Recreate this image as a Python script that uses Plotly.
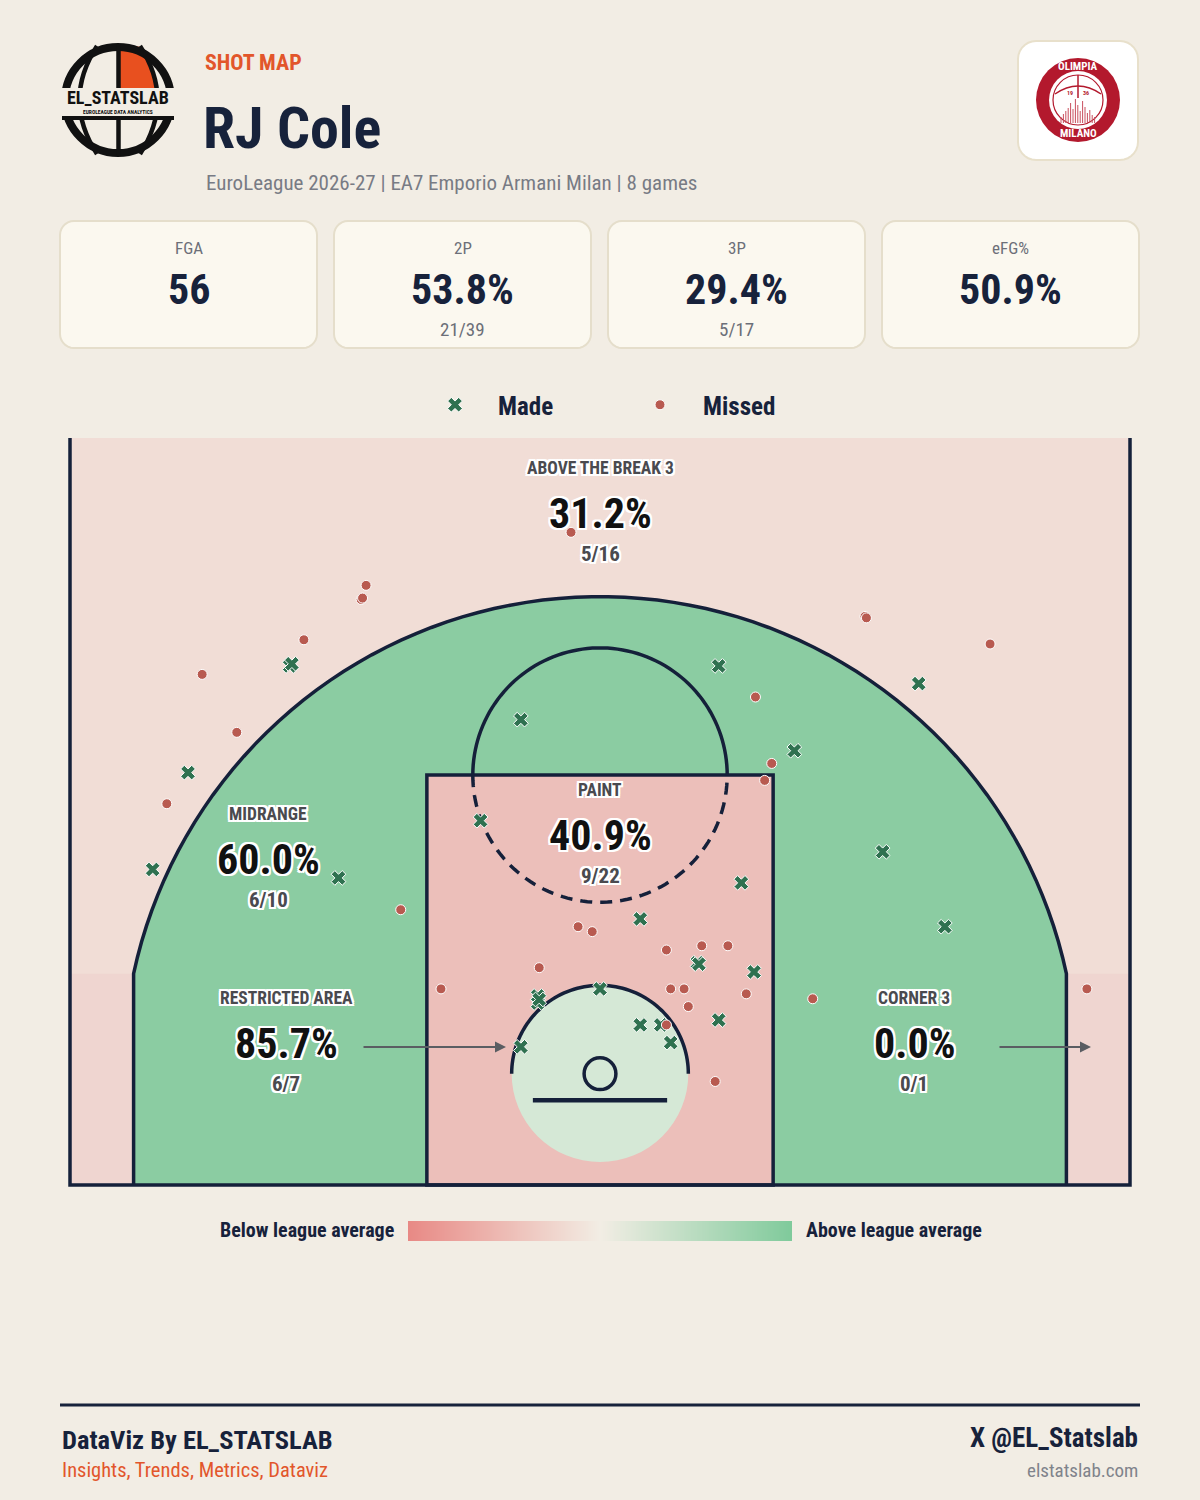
import numpy as np
import plotly.graph_objects as go

# ---------------- DATA ----------------
player = "RJ Cole"
subtitle = "EuroLeague 2026-27 | EA7 Emporio Armani Milan | 8 games"

card_labels = ["FGA", "2P", "3P", "eFG%"]
card_values = ["56", "53.8%", "29.4%", "50.9%"]
card_subs = ["", "21/39", "5/17", ""]

zone_names = ["ABOVE THE BREAK 3", "PAINT", "MIDRANGE", "RESTRICTED AREA", "CORNER 3"]
zone_made = [5, 9, 6, 6, 0]
zone_att = [16, 22, 10, 7, 1]

# shot locations in metres, origin = centre of the basket
made_x = [-4.39, -5.83, -1.12, 1.68, 4.51, 2.75, -6.33, -3.70, -1.69, -0.88, -0.88, 0.00,
          -1.12, 2.00, 0.57, 1.38, 2.18, 1.68, 0.57, 0.86, 1.00, 4.00, 4.88, -4.36, -0.86, 1.40]
made_y = [5.77, 4.26, 5.01, 5.77, 5.52, 4.57, 2.89, 2.77, 3.58, 1.10, 1.00, 1.20,
          0.38, 2.70, 2.19, 1.57, 1.44, 0.76, 0.69, 0.69, 0.44, 3.14, 2.08, 5.80, 1.05, 1.55]
missed_x = [-0.41, -3.31, -3.38, -4.19, -5.63, -5.14, -6.13, 3.75, 5.52, 2.20, 2.43, 2.33,
            -2.82, -0.31, -0.11, -0.86, -2.25, 0.94, 1.44, 1.81, 1.00, 1.19, 2.07, 1.25,
            0.94, 1.63, 3.01, 6.89, -3.36, 3.77]
missed_y = [7.66, 6.91, 6.71, 6.14, 5.65, 4.83, 3.82, 6.47, 6.08, 5.33, 4.39, 4.15,
            2.32, 2.08, 2.01, 1.50, 1.20, 1.75, 1.81, 1.81, 1.20, 1.20, 1.13, 0.95,
            0.69, -0.11, 1.06, 1.20, 6.73, 6.45]

# ---------------- STYLE ----------------
W, H = 1200, 1500
BG = "#f2ede4"
NAVY = "#17223b"
ORANGE = "#e2562b"
GRAY = "#787b84"
FONT = "Roboto Condensed, Roboto, Liberation Sans, sans-serif"
LINE = "#15203a"
GREEN_MK = "#2f7150"
RED_MK = "#b85a50"


def X(px):
    return px / W


def Y(py):
    return 1 - py / H


def rounded_rect(x0, y0, x1, y1, r, n=8):
    pts = []
    corners = [(x1 - r, y0 + r, -90, 0), (x1 - r, y1 - r, 0, 90),
               (x0 + r, y1 - r, 90, 180), (x0 + r, y0 + r, 180, 270)]
    for cx, cy, a0, a1 in corners:
        for a in np.linspace(np.radians(a0), np.radians(a1), n):
            pts.append((cx + r * np.cos(a), cy + r * np.sin(a)))
    return "M " + " L ".join(f"{X(px):.5f},{Y(py):.5f}" for px, py in pts) + " Z"


def arc(cx, cy, r, a0, a1, n=80):
    t = np.radians(np.linspace(a0, a1, n))
    return [(cx + r * np.cos(a), cy + r * np.sin(a)) for a in t]


def path(pts, close=False):
    s = "M " + " L ".join(f"{x:.4f},{y:.4f}" for x, y in pts)
    return s + (" Z" if close else "")


shapes = []
annotations = []


def txt(x, y, s, size, color, bold=False, anchor="center", shadow=None, family=FONT):
    f = dict(family=family, size=size, color=color, weight=700 if bold else 400)
    if shadow:
        f["shadow"] = shadow
    annotations.append(dict(x=X(x), y=Y(y), xref="paper", yref="paper", text=s, showarrow=False,
                            xanchor=anchor, yanchor="middle", font=f))


# ---------------- COURT GEOMETRY (metres) ----------------
BASE = -1.575
TOP = 8.995
R3 = 6.75
XC = 6.6
YC = float(np.sqrt(R3 ** 2 - XC ** 2))
ang = np.degrees(np.arctan2(YC, XC))
FT_Y = 5.8 + BASE
three_pts = [(-XC, BASE), (-XC, YC)] + arc(0, 0, R3, 180 - ang, ang) + [(XC, BASE)]

cs = dict(xref="x", yref="y", layer="below")
# zone fills
shapes.append(dict(type="rect", x0=-7.5, x1=7.5, y0=BASE, y1=TOP, fillcolor="#f1ddd6", line_width=0, **cs))
shapes.append(dict(type="rect", x0=-7.5, x1=-XC, y0=BASE, y1=YC, fillcolor="#efd5d0", line_width=0, **cs))
shapes.append(dict(type="rect", x0=XC, x1=7.5, y0=BASE, y1=YC, fillcolor="#efd5d0", line_width=0, **cs))
shapes.append(dict(type="path", path=path(three_pts, True), fillcolor="#8bcca2", line_width=0, **cs))
shapes.append(dict(type="rect", x0=-2.45, x1=2.45, y0=BASE, y1=FT_Y, fillcolor="#ecbfba", line_width=0, **cs))
shapes.append(dict(type="circle", x0=-1.25, x1=1.25, y0=-1.25, y1=1.25, fillcolor="#d5e8d6", line_width=0, **cs))
# lines
LW = 3.5
ln = dict(color=LINE, width=LW)
shapes.append(dict(type="path", path=path([(-7.5, TOP), (-7.5, BASE), (7.5, BASE), (7.5, TOP)]), line=ln, **cs))
shapes.append(dict(type="rect", x0=-2.45, x1=2.45, y0=BASE, y1=FT_Y, line=ln, **cs))
shapes.append(dict(type="path", path=path(three_pts), line=ln, **cs))
shapes.append(dict(type="path", path=path(arc(0, FT_Y, 1.8, 0, 180)), line=ln, **cs))
shapes.append(dict(type="path", path=path(arc(0, FT_Y, 1.8, 180, 360)),
                   line=dict(color=LINE, width=LW, dash="12px,8px"), **cs))
shapes.append(dict(type="path", path=path(arc(0, 0, 1.25, 180, 0)), line=ln, **cs))
shapes.append(dict(type="circle", x0=-0.225, x1=0.225, y0=-0.225, y1=0.225, line=ln, **cs))
shapes.append(dict(type="line", x0=-0.95, x1=0.95, y0=-0.375, y1=-0.375, line=dict(color=LINE, width=4.5), **cs))

# ---------------- HEADER ----------------
ps = dict(xref="paper", yref="paper")
# EL_STATSLAB logo
orange_poly = [(119, 46), (132, 45.5), (141, 47), (149, 60), (155, 75), (157, 90), (119, 90)]
shapes.append(dict(type="path", path="M " + " L ".join(f"{X(a):.5f},{Y(b):.5f}" for a, b in orange_poly) + " Z",
                   fillcolor="#e8501f", line_width=0, **ps))
shapes.append(dict(type="circle", x0=X(65), x1=X(171), y0=Y(153), y1=Y(47), line=dict(color="#111", width=8), **ps))
shapes.append(dict(type="line", x0=X(118.5), x1=X(118.5), y0=Y(44), y1=Y(156), line=dict(color="#111", width=4.5), **ps))
for (a, c, b) in [((97, 46), (62, 100), (97, 154)), ((140, 46), (175, 100), (140, 154))]:
    shapes.append(dict(type="path",
                       path=f"M {X(a[0]):.5f},{Y(a[1]):.5f} Q {X(c[0]):.5f},{Y(c[1]):.5f} {X(b[0]):.5f},{Y(b[1]):.5f}",
                       line=dict(color="#111", width=4.5), **ps))
shapes.append(dict(type="rect", x0=X(58), x1=X(178), y0=Y(116), y1=Y(88), fillcolor=BG, line_width=0, **ps))
shapes.append(dict(type="line", x0=X(62), x1=X(174), y0=Y(118), y1=Y(118), line=dict(color="#111", width=4), **ps))
txt(118, 97.5, "EL_STATSLAB", 18, "#111", bold=True)
txt(118, 111.5, "EUROLEAGUE DATA ANALYTICS", 5.5, "#111", bold=True)

# Olimpia badge
shapes.append(dict(type="path", path=rounded_rect(1018, 41, 1138, 160, 18), fillcolor="#ffffff",
                   line=dict(color="#e8e0cb", width=2), **ps))
shapes.append(dict(type="circle", x0=X(1036), x1=X(1120), y0=Y(142), y1=Y(58), fillcolor="#b3192d", line_width=0, **ps))
shapes.append(dict(type="circle", x0=X(1049), x1=X(1107), y0=Y(129), y1=Y(71), fillcolor="#ffffff", line_width=0, **ps))
shapes.append(dict(type="circle", x0=X(1053), x1=X(1103), y0=Y(125), y1=Y(75), line=dict(color="#b3192d", width=1.2), **ps))
shapes.append(dict(type="line", x0=X(1078), x1=X(1078), y0=Y(75), y1=Y(98), line=dict(color="#b3192d", width=1.5), **ps))
shapes.append(dict(type="path", path=f"M {X(1055):.5f},{Y(94):.5f} Q {X(1078):.5f},{Y(78):.5f} {X(1101):.5f},{Y(94):.5f}",
                   line=dict(color="#b3192d", width=1.5), **ps))
skyline_h = [6, 9, 12, 15, 20, 14, 24, 18, 12, 22, 16, 10, 13, 8, 6]
for i, hgt in enumerate(skyline_h):
    xx = 1061 + i * 2.4
    shapes.append(dict(type="line", x0=X(xx), x1=X(xx), y0=Y(123), y1=Y(123 - hgt),
                       line=dict(color="#c9505f", width=1), **ps))
txt(1078, 67, "OLIMPIA", 11, "#ffffff", bold=True)
txt(1078, 133, "MILANO", 11, "#ffffff", bold=True)
txt(1070, 92, "19", 6, "#b3192d", bold=True)
txt(1086, 92, "36", 6, "#b3192d", bold=True)

txt(203, 62, "SHOT MAP", 22, ORANGE, bold=True, anchor="left")
txt(201, 128, player, 58, NAVY, bold=True, anchor="left")
txt(204, 183, subtitle, 21, GRAY, anchor="left")

# stat cards
card_x0 = [60, 334, 608, 882]
for x0, lab, val, sub in zip(card_x0, card_labels, card_values, card_subs):
    shapes.append(dict(type="path", path=rounded_rect(x0, 221, x0 + 257, 348, 14), fillcolor="#fbf8ef",
                       line=dict(color="#e5decb", width=2), **ps))
    cx = x0 + 128.5
    txt(cx, 248, lab, 17, "#6c6f78")
    txt(cx, 289, val, 42, NAVY, bold=True)
    if sub:
        txt(cx, 329, sub, 19, "#6c6f78")

# ---------------- ZONE LABELS ----------------
halo = ("-2px -2px 0 #fff, 2px -2px 0 #fff, -2px 2px 0 #fff, 2px 2px 0 #fff, "
        "0 2px 0 #fff, 0 -2px 0 #fff, 2px 0 0 #fff, -2px 0 0 #fff")
zone_pos = [(600, 468), (600, 790), (268, 814), (286, 998), (914, 998)]
for name, m, a, (zx, zy) in zip(zone_names, zone_made, zone_att, zone_pos):
    txt(zx, zy, name, 17.5, "#4a4a4f", bold=True, shadow=halo)
    txt(zx, zy + 45, f"{m / a * 100:.1f}%", 42, "#111111", bold=True, shadow=halo)
    txt(zx, zy + 86, f"{m}/{a}", 21, "#4a4a4f", bold=True, shadow=halo)

for (hx, tx) in [(506, 362), (1091, 998)]:
    annotations.append(dict(x=X(hx), y=Y(1047), xref="paper", yref="paper", ax=tx - hx, ay=0, text="",
                            showarrow=True, arrowhead=2, arrowsize=1, arrowwidth=2.2, arrowcolor="#5a5d62"))

# ---------------- COLOR BAR ----------------
scale_vals = list(np.linspace(-1, 1, 201))
txt(396, 1230, "Below league average", 20, NAVY, bold=True, anchor="right")
txt(804, 1230, "Above league average", 20, NAVY, bold=True, anchor="left")

# ---------------- FOOTER ----------------
shapes.append(dict(type="line", x0=X(60), x1=X(1140), y0=Y(1405), y1=Y(1405), line=dict(color=NAVY, width=3), **ps))
txt(60, 1439, "DataViz By EL_STATSLAB", 26.5, NAVY, bold=True, anchor="left")
txt(60, 1470, "Insights, Trends, Metrics, Dataviz", 20.5, ORANGE, anchor="left")
txt(1140, 1438, "X @EL_Statslab", 27, NAVY, bold=True, anchor="right")
txt(1140, 1470, "elstatslab.com", 19, "#80838b", anchor="right")

# ---------------- FIGURE ----------------
fig = go.Figure()
fig.add_trace(go.Scatter(x=made_x, y=made_y, mode="markers", name="\u00a0\u00a0\u00a0\u00a0Made",
                         marker=dict(symbol="x", size=13, color=GREEN_MK, line=dict(color="#ffffff", width=1)),
                         xaxis="x", yaxis="y", hoverinfo="skip"))
fig.add_trace(go.Scatter(x=missed_x, y=missed_y, mode="markers", name="\u00a0\u00a0\u00a0\u00a0Missed",
                         marker=dict(symbol="circle", size=10, color=RED_MK, line=dict(color="#ffffff", width=1)),
                         xaxis="x", yaxis="y", hoverinfo="skip"))
fig.add_trace(go.Heatmap(z=[scale_vals], x=scale_vals, y=[0], xaxis="x2", yaxis="y2", showscale=False,
                         zsmooth="best", hoverinfo="skip",
                         colorscale=[[0, "#e88985"], [0.5, "#f2ede4"], [1, "#7fca9b"]]))

PXM = 1060 / 15.0
xr = [-7.5 - 0.1, 7.5 + 0.1]
yr = [BASE - 0.1, TOP]
xd0 = 600 + xr[0] * PXM
xd1 = 600 + xr[1] * PXM
yd_bot = 1185 + 0.1 * PXM
fig.update_layout(
    width=W, height=H, margin=dict(l=0, r=0, t=0, b=0),
    paper_bgcolor=BG, plot_bgcolor=BG,
    xaxis=dict(domain=[X(xd0), X(xd1)], range=xr, visible=False, fixedrange=True),
    yaxis=dict(domain=[Y(yd_bot), Y(438)], range=yr, visible=False, fixedrange=True),
    xaxis2=dict(domain=[X(408), X(792)], range=[-1, 1], visible=False, anchor="y2"),
    yaxis2=dict(domain=[Y(1241), Y(1221)], range=[-0.5, 0.5], visible=False, anchor="x2"),
    shapes=shapes, annotations=annotations,
    showlegend=True,
    legend=dict(orientation="h", x=X(435), xanchor="left", y=Y(405), yanchor="middle",
                font=dict(family=FONT, size=25, color=NAVY, weight=700), bgcolor="rgba(0,0,0,0)",
                entrywidth=160, entrywidthmode="pixels", itemclick=False, itemdoubleclick=False),
    font=dict(family=FONT),
)

fig.write_html("out.html")
